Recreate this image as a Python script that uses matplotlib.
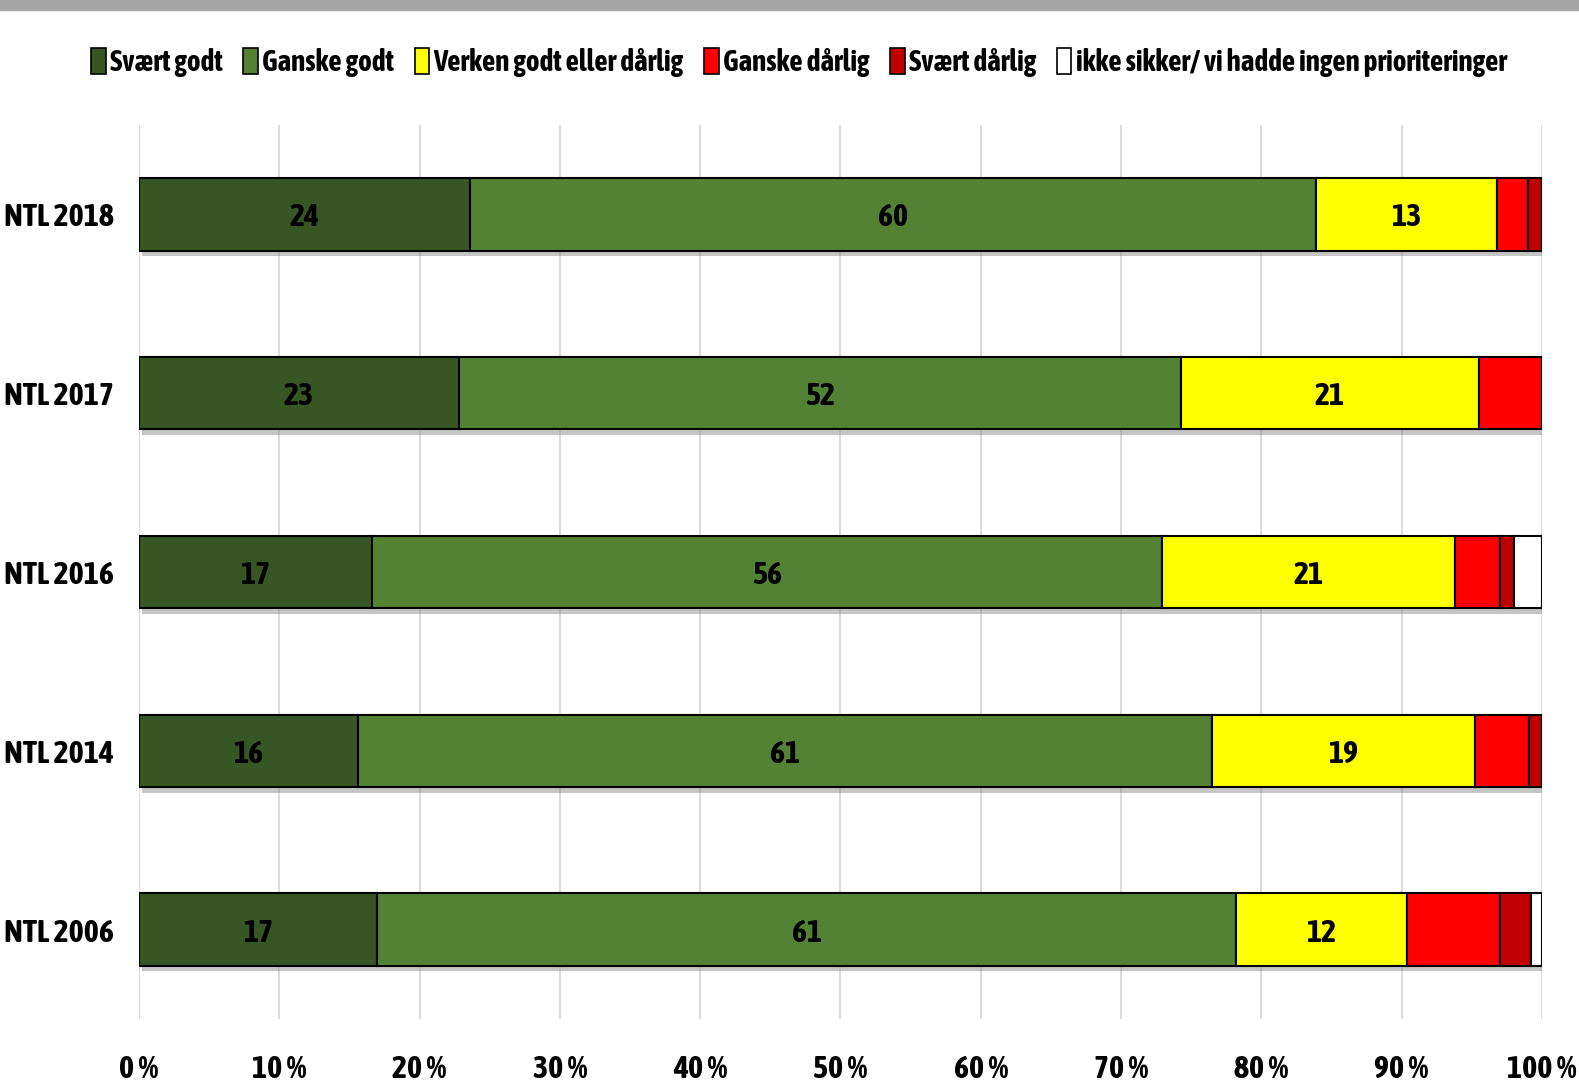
import matplotlib
matplotlib.use("Agg")
import matplotlib.pyplot as plt
import matplotlib.patheffects as pe
from matplotlib.patches import Patch
import numpy as np

# data (percent)
years = ["NTL 2018", "NTL 2017", "NTL 2016", "NTL 2014", "NTL 2006"]
series_names = ["Svært godt", "Ganske godt", "Verken godt eller dårlig",
                "Ganske dårlig", "Svært dårlig",
                "ikke sikker/ vi hadde ingen prioriteringer"]
svaert_godt = [23.6, 22.8, 16.6, 15.6, 17.0]
ganske_godt = [60.3, 51.5, 56.3, 60.9, 61.2]
verken = [12.9, 21.2, 20.9, 18.7, 12.2]
ganske_darlig = [2.2, 4.5, 3.2, 3.9, 6.6]
svaert_darlig = [1.0, 0.0, 1.0, 0.9, 2.2]
ikke_sikker = [0.0, 0.0, 2.0, 0.0, 0.8]
colors = ["#375623", "#548235", "#FFFF00", "#FF0000", "#C00000", "#FFFFFF"]
xticks = np.arange(0, 101, 10)

plt.rcParams["font.family"] = ["Asap Condensed", "Archivo Narrow", "DejaVu Sans"]
plt.rcParams["font.weight"] = "bold"
FS = 23

fig = plt.figure(figsize=(15.79, 10.82), dpi=100)
ax = fig.add_axes([0.088, 0.0583, 0.8885, 0.8261])

# gray band at top
fig.patches.append(plt.Rectangle((0, 0.991), 1, 0.009, transform=fig.transFigure,
                                 color="#A6A6A6", zorder=0))

data = [svaert_godt, ganske_godt, verken, ganske_darlig, svaert_darlig, ikke_sikker]
y = np.arange(len(years))[::-1]
left = np.zeros(len(years))
shadow = [pe.SimplePatchShadow(offset=(2, -4), shadow_rgbFace="gray", alpha=0.45), pe.Normal()]
for vals, c, name in zip(data, colors, series_names):
    vals = np.array(vals)
    bars = ax.barh(y, vals, left=left, height=0.405, color=c, edgecolor="black",
                   linewidth=1.5, zorder=3, path_effects=shadow)
    for b, v in zip(bars, vals):
        if v >= 10:
            ax.text(b.get_x() + b.get_width() / 2, b.get_y() + b.get_height() / 2,
                    "%d" % round(v), ha="center", va="center_baseline", fontsize=FS,
                    fontweight="bold", zorder=4)
    left += vals

ax.set_xlim(0, 100)
ax.set_ylim(-0.5, 4.5)
ax.set_xticks(xticks)
ax.set_xticklabels(["%d %%" % t for t in xticks], fontsize=FS, fontweight="bold")
ax.set_yticks(y)
ax.set_yticklabels(years, fontsize=FS, fontweight="bold")
ax.tick_params(axis="x", length=0, pad=25)
ax.tick_params(axis="y", length=0, pad=18)
ax.grid(axis="x", color="#D9D9D9", linewidth=1.3, zorder=0)
for s in ax.spines.values():
    s.set_visible(False)

handles = [Patch(facecolor=c, edgecolor="black", linewidth=1.2) for c in colors]
fig.legend(handles, series_names, loc="center", bbox_to_anchor=(0.506, 0.942), ncol=6,
           frameon=False, handlelength=0.5, handleheight=1.0,
           handletextpad=0.15, columnspacing=0.7, prop={"weight": "bold", "size": 21})

fig.savefig("out.png", dpi=100)
